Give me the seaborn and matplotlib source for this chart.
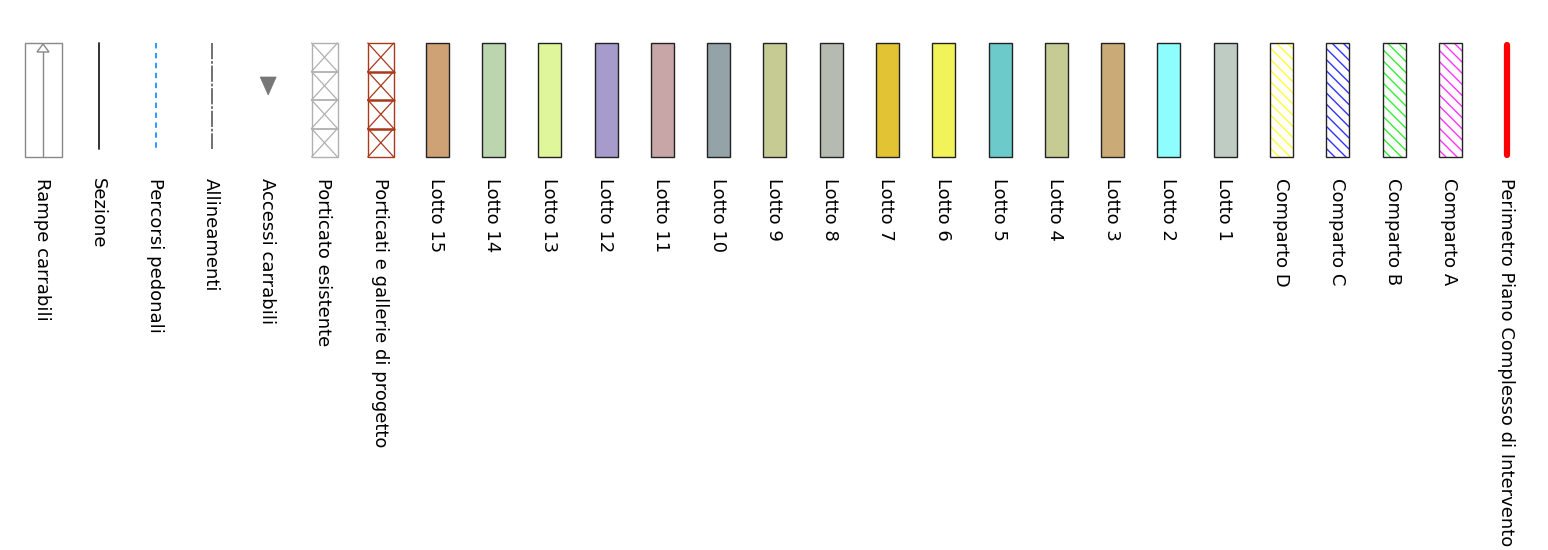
import matplotlib
matplotlib.use("Agg")
import matplotlib.pyplot as plt
import seaborn as sns
from matplotlib.patches import Rectangle, Polygon
from matplotlib.lines import Line2D

sns.set_theme(style="white")
plt.rcParams['font.family'] = ['DejaVu Sans']
plt.rcParams['hatch.linewidth'] = 1.0

# ---- data: legend entries, left to right ----
labels = [
    "Rampe carrabili", "Sezione", "Percorsi pedonali", "Allineamenti",
    "Accessi carrabili", "Porticato esistente", "Porticati e gallerie di progetto",
    "Lotto 15", "Lotto 14", "Lotto 13", "Lotto 12", "Lotto 11", "Lotto 10",
    "Lotto 9", "Lotto 8", "Lotto 7", "Lotto 6", "Lotto 5", "Lotto 4",
    "Lotto 3", "Lotto 2", "Lotto 1",
    "Comparto D", "Comparto C", "Comparto B", "Comparto A",
    "Perimetro Piano Complesso di Intervento",
]
kinds = [
    "ramp", "line", "dashed", "dashdot", "triangle", "portico", "portico",
    "fill", "fill", "fill", "fill", "fill", "fill", "fill", "fill",
    "fill", "fill", "fill", "fill", "fill", "fill", "fill",
    "hatch", "hatch", "hatch", "hatch",
    "thick",
]
colors = [
    "#888888", "#222222", "#1e90ff", "#666666", "#777777", "#b0b0b0", "#a8391c",
    "#cfa276", "#bbd5ae", "#dff79a", "#a69bcb", "#c8a6a7", "#93a3a8",
    "#c6cb94", "#b5bbb0", "#e2c333", "#f1f358", "#6dcacb", "#c6cb94",
    "#caaa77", "#8efdfe", "#bfccc3",
    "#ffff33", "#3333ff", "#33ee33", "#ff33ff",
    "#ff0000",
]

W, H = 1548, 550
x0, step = 43.0, 56.3   # pixel layout of entries
fig = plt.figure(figsize=(W / 100, H / 100), dpi=100)
ax = fig.add_axes([0, 0, 1, 1])
ax.set_xlim(-x0 / step, (W - x0) / step)
ax.set_ylim(H, 0)
ax.axis("off")
px = 1.0 / step  # one pixel in x data units

top, bot, bot_line = 43, 157, 149
for i, (lab, kind, c) in enumerate(zip(labels, kinds, colors)):
    if kind == "ramp":
        hw = 18.5 * px
        ax.add_patch(Rectangle((i - hw, top), 2 * hw, bot - top, fill=False,
                               edgecolor=c, lw=1.0))
        ax.add_line(Line2D([i, i], [52, bot], color=c, lw=1.0))
        ax.add_patch(Polygon([(i - 6 * px, 52), (i + 6 * px, 52), (i, 44)],
                             closed=True, facecolor="white", edgecolor=c, lw=1.0))
    elif kind == "line":
        ax.add_line(Line2D([i, i], [top, bot_line], color=c, lw=1.3))
    elif kind == "dashed":
        ax.add_line(Line2D([i, i], [top, bot_line], color=c, lw=1.3,
                           dashes=(3, 2.5)))
    elif kind == "dashdot":
        ax.add_line(Line2D([i, i], [top, bot_line], color=c, lw=1.3,
                           dashes=(9, 1, 1.5, 1)))
    elif kind == "triangle":
        ax.add_patch(Polygon([(i - 8 * px, 77), (i + 8 * px, 77), (i, 95)],
                             closed=True, facecolor=c, edgecolor=c, lw=0.5))
    elif kind == "portico":
        hw = 13 * px
        ax.add_patch(Rectangle((i - hw, top), 2 * hw, bot - top, fill=False,
                               edgecolor=c, lw=1.0))
        n = 4
        ch = (bot - top) / n
        for k in range(n):
            y1 = top + k * ch
            y2 = y1 + ch
            ax.add_line(Line2D([i - hw, i + hw], [y1, y2], color=c, lw=0.9))
            ax.add_line(Line2D([i - hw, i + hw], [y2, y1], color=c, lw=0.9))
            if k > 0:
                ax.add_line(Line2D([i - hw, i + hw], [y1, y1], color=c,
                                   lw=1.8 if i == 6 else 1.3))
    elif kind == "fill":
        hw = 11.5 * px
        ax.add_patch(Rectangle((i - hw, top), 2 * hw, bot - top, facecolor=c,
                               edgecolor="#222222", lw=1.0))
    elif kind == "hatch":
        hw = 11.5 * px
        ax.add_patch(Rectangle((i - hw, top), 2 * hw, bot - top, facecolor="white",
                               edgecolor=c, hatch="\\\\\\", lw=0))
        ax.add_patch(Rectangle((i - hw, top), 2 * hw, bot - top, fill=False,
                               edgecolor="#222222", lw=1.0))
    elif kind == "thick":
        ax.add_line(Line2D([i, i], [top + 2, bot - 2], color=c, lw=4.5,
                           solid_capstyle="round"))
    ax.text(i - 1 * px, 178, lab, rotation=270, ha="center", va="top",
            fontsize=13, color="black")

fig.savefig("out.png", dpi=100)
